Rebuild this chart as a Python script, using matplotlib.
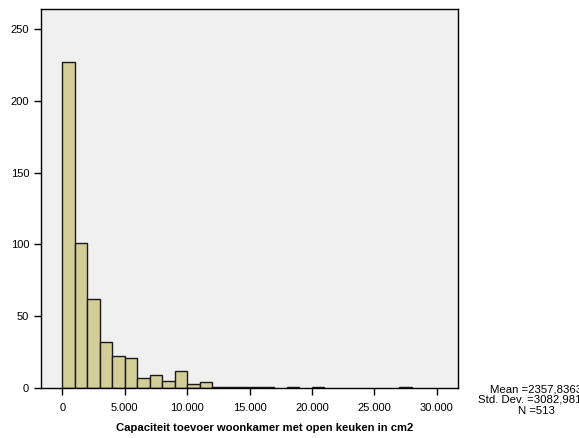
import matplotlib
matplotlib.use("Agg")
import matplotlib.pyplot as plt

plt.rcParams['font.family'] = ['Liberation Sans', 'DejaVu Sans']

# bin edges (cm2) and frequencies
bin_starts = list(range(0, 30000, 1000))
counts = [227, 101, 62, 32, 22, 21, 7, 9, 5, 12, 3, 4, 1, 1, 1, 1, 1, 0,
          1, 0, 1, 0, 0, 0, 0, 0, 0, 1, 0, 0]
xticks = [0, 5000, 10000, 15000, 20000, 25000, 30000]
xtick_labels = ['0', '5.000', '10.000', '15.000', '20.000', '25.000', '30.000']
yticks = [0, 50, 100, 150, 200, 250]
stats = ['Mean =2357,8363', 'Std. Dev. =3082,98148', 'N =513']

fig = plt.figure(figsize=(5.79, 4.38), dpi=100)
ax = fig.add_axes([41 / 579, 1 - 388 / 438, 417 / 579, 379 / 438])
ax.set_facecolor('#F0F0F0')

nz = [(s, c) for s, c in zip(bin_starts, counts) if c > 0]
ax.bar([s for s, _ in nz], [c for _, c in nz], width=1000, align='edge',
       color='#D3CE98', edgecolor='#1a1a1a', linewidth=1.0)

ax.set_xlim(-1700, 31700)
ax.set_ylim(0, 264)
ax.set_xticks(xticks)
ax.set_xticklabels(xtick_labels)
ax.set_yticks(yticks)
ax.tick_params(direction='out', length=5, width=1, labelsize=8, colors='black')
ax.tick_params(axis='x', pad=6)
for sp in ax.spines.values():
    sp.set_linewidth(1)
    sp.set_color('black')

ax.set_xlabel('Capaciteit toevoer woonkamer met open keuken in cm2',
              fontsize=8.1, fontweight='bold', labelpad=7)
ax.xaxis.label.set_x((265 - 41) / 417)

fig.text(536 / 579, 1 - 400 / 438, '\n'.join(stats), ha='center', va='center',
         fontsize=8.2, linespacing=1.1)

fig.savefig('out.png', dpi=100, facecolor='white')
